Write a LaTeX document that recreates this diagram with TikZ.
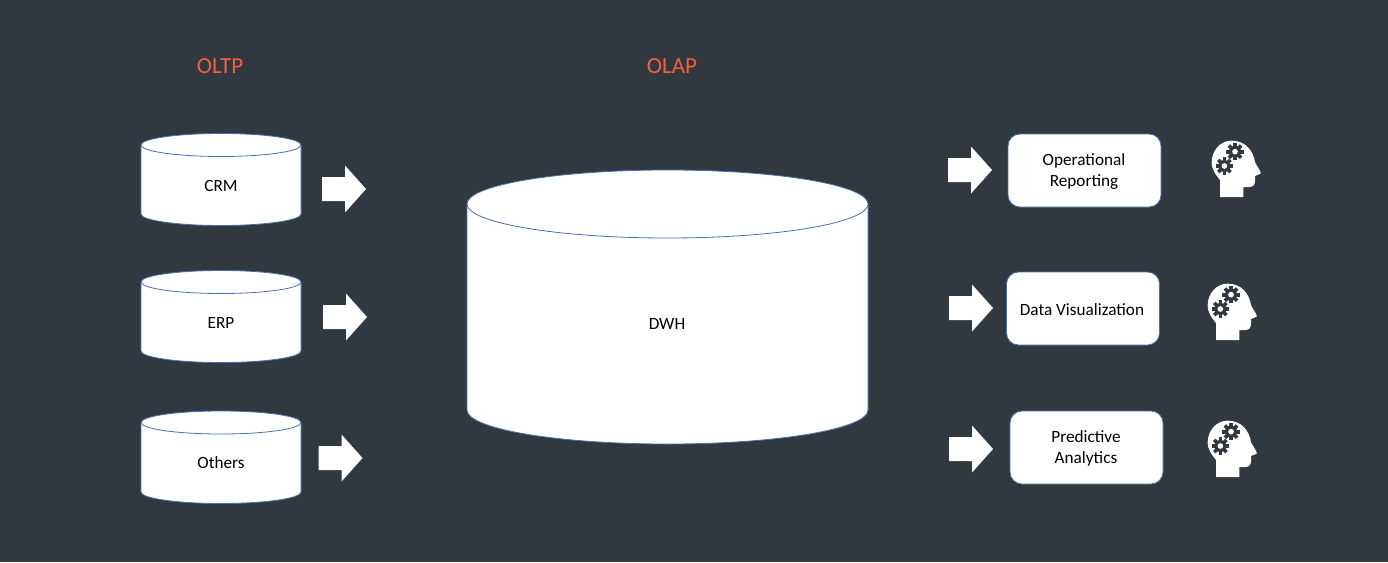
\documentclass[tikz,border=0pt]{standalone}
\usepackage{fontspec}
\setmainfont{Carlito}
\definecolor{bgdark}{HTML}{323840}
\definecolor{titlered}{HTML}{F2613F}
\definecolor{edgeblue}{HTML}{4A70AC}
\newcommand{\gearat}[2]{
  \begin{scope}[shift={(#1,#2)}]
    \fill [bgdark] (0,0) circle (18);
    \foreach \a in {0,45,...,315}
      \fill [bgdark, rotate=\a] (-5.5,15) rectangle (5.5,26);
    \fill [white] (0,0) circle (8.5);
  \end{scope}
}
\tikzset{
  lbl/.style={font=\fontsize{17.2}{21}\selectfont, text=black, align=center},
  ttl/.style={font=\fontsize{23}{26}\selectfont, text=titlered},
  dbbody/.style={fill=white, draw=edgeblue, line width=0.8pt},
  toolbox/.style={rectangle, rounded corners=12pt, fill=white, draw=edgeblue, line width=0.8pt, minimum width=153pt, minimum height=73pt, inner sep=0pt},
  pics/bigarrow/.style={code={
    \fill [white] (0,-12) -- (23,-12) -- (23,-23.5) -- (44,0) -- (23,23.5) -- (23,12) -- (0,12) -- cycle;
  }},
  pics/thinker/.style={code={
    \begin{scope}[scale=1/3]
      \fill [white] (90,216) -- (160,216) -- (160,186) -- (178,186)
        .. controls (190,186) and (195,178) .. (195,168) -- (195,153) -- (212,146)
        .. controls (214,142) and (205,130) .. (195,112)
        .. controls (190,76) and (165,47) .. (125,47)
        .. controls (90,47) and (65,78) .. (65,112)
        .. controls (65,135) and (78,150) .. (90,165) -- cycle;
      \gearat{135}{80}
      \gearat{103}{123}
    \end{scope}
  }}
}
\begin{document}
\begin{tikzpicture}[x=1pt, y=-1pt]
  \fill [bgdark] (0,0) rectangle (1388,562);
  \useasboundingbox (0,0) rectangle (1388,562);
  \node [ttl] (oltp) at (220,66.5) {OLTP};
  \node [ttl] (olap) at (672,66.5) {OLAP};
  % source databases
  \foreach \name/\lab/\ty/\by in {crm/CRM/145/214, erp/ERP/282/351, others/Others/422.5/492} {
    \draw [dbbody] (141,\ty) -- (141,\by) arc [start angle=180, end angle=0, x radius=80, y radius=11.5]
      -- (301,\ty);
    \draw [dbbody] (221,\ty) ellipse (80 and 11.5);
    \node [lbl] (\name) at (221,\ty+40.5) {\lab};
  }
  % warehouse
  \draw [dbbody] (467,204) -- (467,410) arc [start angle=180, end angle=0, x radius=200.5, y radius=34]
    -- (868,204);
  \draw [dbbody] (667.5,204) ellipse (200.5 and 34);
  \node [lbl] (dwh) at (667,324) {DWH};
  % arrows
  \pic at (322,189) {bigarrow};
  \pic at (323,317) {bigarrow};
  \pic at (318.5,458) {bigarrow};
  \pic at (948,170) {bigarrow};
  \pic at (949,308) {bigarrow};
  \pic at (949,449) {bigarrow};
  % consumers
  \node [toolbox] (opreport) at (1084.5,170.5) {};
  \node [toolbox] (dataviz) at (1083,308.5) {};
  \node [toolbox] (predict) at (1086.5,447.5) {};
  \node [lbl] (opreporttext) at (1084,172) {Operational\\Reporting};
  \node [lbl] (datavizext) at (1082,309.5) {Data Visualization};
  \node [lbl] (predicttext) at (1086,448.5) {Predictive\\Analytics};
  \pic at (1190,125) {thinker};
  \pic at (1186,268) {thinker};
  \pic at (1186,405) {thinker};
\end{tikzpicture}
\end{document}
